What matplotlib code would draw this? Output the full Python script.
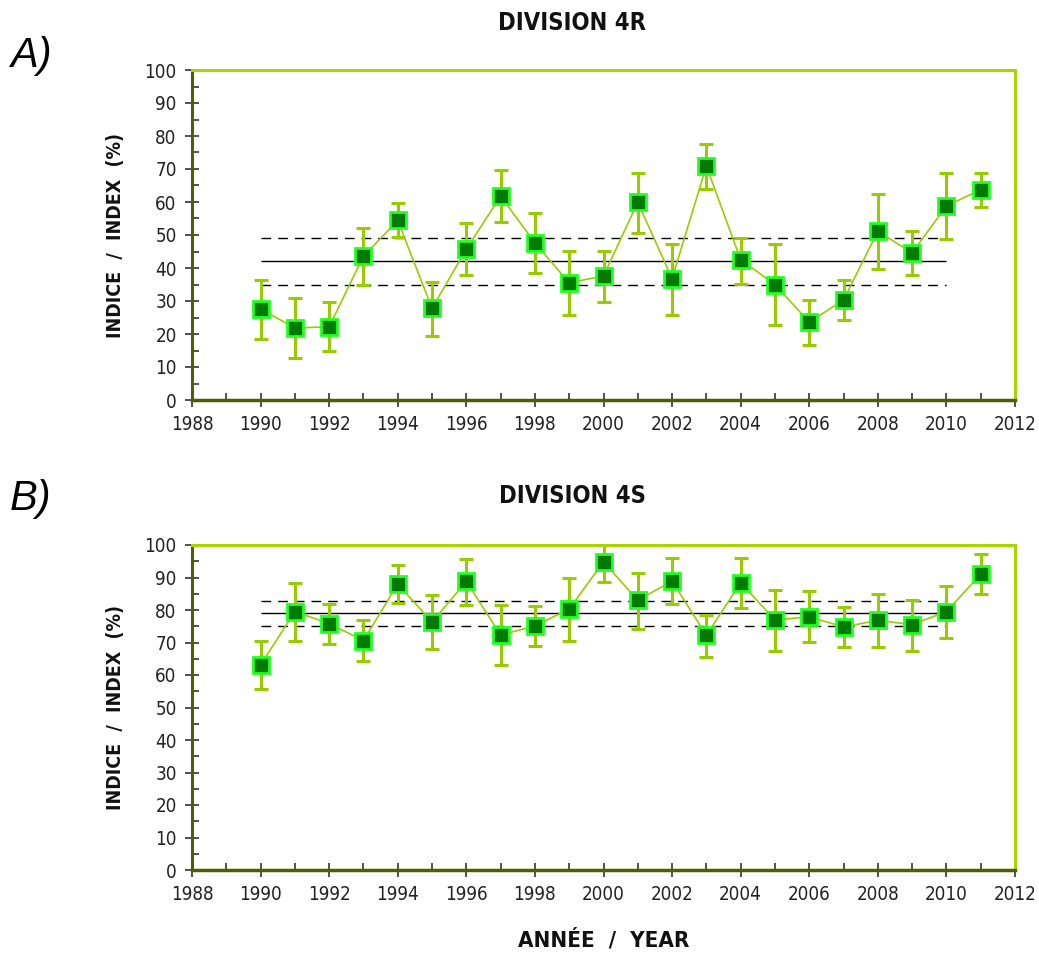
import matplotlib
matplotlib.use("Agg")
import matplotlib.pyplot as plt
from matplotlib.ticker import MultipleLocator

plt.rcParams["font.family"] = ["DejaVu Sans"]
plt.rcParams["font.stretch"] = "condensed"

YEARS = list(range(1990, 2012))

# Division 4R
IDX_4R = [27.6, 21.8, 22.2, 43.6, 54.4, 27.8, 45.7, 61.8, 47.6, 35.5, 37.6,
          59.9, 36.8, 70.9, 42.5, 35.0, 23.6, 30.3, 51.1, 44.6, 58.8, 63.7]
HI_4R = [36.4, 31.0, 29.7, 52.1, 59.7, 35.9, 53.5, 69.8, 56.8, 45.1, 45.2,
         68.8, 47.3, 77.6, 49.2, 47.4, 30.2, 36.3, 62.4, 51.3, 68.7, 68.9]
LO_4R = [18.4, 12.7, 14.8, 34.9, 49.3, 19.5, 37.8, 53.9, 38.6, 25.7, 29.8,
         50.7, 25.9, 64.0, 35.3, 22.6, 16.8, 24.1, 39.6, 37.8, 48.8, 58.4]
MEAN_4R = 42
BAND_4R = (35, 49)

# Division 4S
IDX_4S = [63.1, 79.5, 75.8, 70.6, 88.0, 76.3, 88.8, 72.3, 75.1, 80.3, 94.8,
          83.0, 88.9, 72.2, 88.4, 76.9, 77.9, 74.8, 76.8, 75.5, 79.5, 91.0]
HI_4S = [70.5, 88.2, 81.8, 76.9, 93.8, 84.7, 95.8, 81.5, 81.2, 89.8, 100.9,
         91.4, 95.9, 78.5, 96.0, 86.2, 85.8, 81.0, 84.8, 83.2, 87.3, 97.1]
LO_4S = [55.8, 70.6, 69.5, 64.2, 82.1, 68.0, 81.4, 63.1, 68.8, 70.6, 88.5,
         74.3, 81.8, 65.5, 80.5, 67.3, 70.1, 68.7, 68.7, 67.5, 71.5, 84.9]
MEAN_4S = 79
BAND_4S = (75.2, 82.7)

REF_START, REF_END = 1990, 2010

LINE_GREEN = "#99cc00"
FRAME_GREEN = "#a8d400"
DARK_AXIS = "#4d6000"

W, H = 1039, 956


def draw_panel(ax, idx, hi, lo, mean, band):
    ax.hlines(mean, REF_START, REF_END, color="black", lw=1.0, zorder=1)
    for b in band:
        ax.hlines(b, REF_START, REF_END, color="black", lw=1.0,
                  linestyles=(0, (7, 5)), zorder=1)

    yerr = [[v - l for v, l in zip(idx, lo)], [h - v for v, h in zip(idx, hi)]]
    ax.errorbar(YEARS, idx, yerr=yerr, fmt="none", ecolor=LINE_GREEN,
                elinewidth=2.2, capsize=5, capthick=2.2, zorder=2)
    ax.plot(YEARS, idx, color=LINE_GREEN, lw=1.2, marker="s", markersize=11,
            markerfacecolor="#007a00", markeredgecolor="#22ff22",
            markeredgewidth=2, zorder=3)

    ax.set_xlim(1988, 2012)
    ax.set_ylim(0, 100)
    ax.xaxis.set_major_locator(MultipleLocator(2))
    ax.xaxis.set_minor_locator(MultipleLocator(1))
    ax.yaxis.set_major_locator(MultipleLocator(10))
    ax.yaxis.set_minor_locator(MultipleLocator(5))
    ax.tick_params(axis="both", which="major", direction="inout", length=10,
                   width=1.2, color="#333333", labelsize=13.5, pad=6,
                   labelcolor="#222222")
    ax.tick_params(axis="both", which="minor", direction="in", length=5,
                   width=1.2, color="#333333")

    ax.spines["top"].set_color(FRAME_GREEN)
    ax.spines["right"].set_color(FRAME_GREEN)
    ax.spines["top"].set_linewidth(2.2)
    ax.spines["right"].set_linewidth(2.2)
    ax.spines["left"].set_color(DARK_AXIS)
    ax.spines["bottom"].set_color(DARK_AXIS)
    ax.spines["left"].set_linewidth(2.2)
    ax.spines["bottom"].set_linewidth(2.5)

    ax.set_ylabel("INDICE  /  INDEX  (%)", fontsize=14, fontweight="bold",
                  labelpad=14, color="#111111")


fig = plt.figure(figsize=(W / 100, H / 100), dpi=100)
ax_top = fig.add_axes([192 / W, 1 - 400 / H, 823 / W, 330 / H])
ax_bot = fig.add_axes([192 / W, 1 - 870 / H, 823 / W, 325 / H])

draw_panel(ax_top, IDX_4R, HI_4R, LO_4R, MEAN_4R, BAND_4R)
draw_panel(ax_bot, IDX_4S, HI_4S, LO_4S, MEAN_4S, BAND_4S)

# panel titles and letters, placed in figure pixels (baseline)
for title, title_base, letter, letter_base in [("DIVISION 4R", 30, "A)", 67),
                                                ("DIVISION 4S", 503, "B)", 510)]:
    fig.text(572 / W, 1 - title_base / H, title, fontsize=17, fontweight="bold",
             ha="center", va="baseline", color="#111111")
    fig.text(10 / W, 1 - letter_base / H, letter, fontsize=30, fontstyle="italic",
             family="Liberation Sans", stretch="normal", ha="left", va="baseline")

ax_bot.set_xlabel("ANNÉE  /  YEAR", fontsize=16, fontweight="bold",
                  labelpad=18, color="#111111")

fig.savefig("out.png", dpi=100)
